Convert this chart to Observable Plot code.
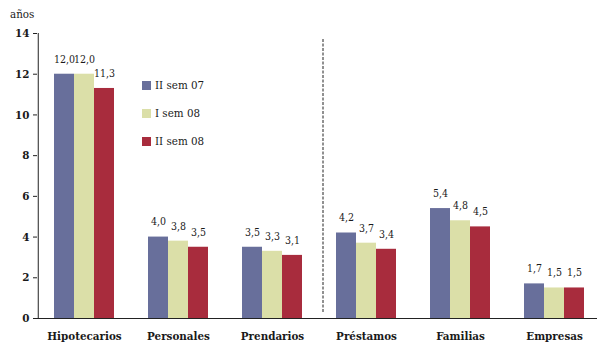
<!DOCTYPE html>
<html>
<head>
<meta charset="utf-8">
<script src="https://cdn.jsdelivr.net/npm/d3@7"></script>
<script src="https://cdn.jsdelivr.net/npm/@observablehq/plot@0.6"></script>
<style>
  body { margin: 0; background: white; }
  #wrap { position: relative; width: 597px; height: 349px; font-family: 'DejaVu Serif Condensed', 'DejaVu Serif', serif; font-stretch: condensed; color: #1a1a1a; }
  #unit { position: absolute; left: 10px; top: 7px; font-size: 11.5px; }
  #legend { position: absolute; left: 142px; top: 78px; font-size: 11.5px; }
  .row { display: flex; align-items: center; height: 14px; margin-bottom: 14px; }
  .sw { width: 9px; height: 9px; margin-right: 4px; display: inline-block; }
  svg, svg text { font-family: 'DejaVu Serif Condensed', 'DejaVu Serif', serif !important; font-stretch: condensed; }
</style>
</head>
<body>
<div id="wrap"><div id="unit">años</div><div id="legend"></div></div>
<script>
const categories = ["Hipotecarios", "Personales", "Prendarios", "Préstamos", "Familias", "Empresas"];
const series = ["II sem 07", "I sem 08", "II sem 08"];
const sem07b = [12.0, 4.0, 3.5, 4.2, 5.4, 1.7];
const sem08a = [12.0, 3.8, 3.3, 3.7, 4.8, 1.5];
const sem08b = [11.3, 3.5, 3.1, 3.4, 4.5, 1.5];
const yTicks = [0, 2, 4, 6, 8, 10, 12, 14];
const colors = ["#686f9b", "#dbdfa8", "#a82c3d"];

const values = [sem07b, sem08a, sem08b];
const data = categories.flatMap((c, i) => series.map((s, j) => ({category: c, series: s, value: values[j][i]})));
const fmt = d => d.value.toFixed(1).replace(".", ",");

const plot = Plot.plot({
  width: 597, height: 349,
  marginLeft: 35, marginRight: -5, marginTop: 33, marginBottom: 31,
  style: {fontFamily: "'DejaVu Serif Condensed', 'DejaVu Serif', serif", fontSize: "11.5px", color: "#1a1a1a", background: "transparent"},
  fx: {domain: categories, padding: 0, label: null},
  x: {domain: series, paddingInner: 0, paddingOuter: 0.75, axis: null},
  y: {domain: [0, 14], label: null},
  color: {domain: series, range: colors},
  marks: [
    Plot.barY(data, {fx: "category", x: "series", y: "value", fill: "series", inset: 0}),
    Plot.text(data, {fx: "category", x: "series", y: "value", text: fmt, dy: -15, fontSize: 10.5, fill: "#1a1a1a"}),
    Plot.ruleY([0], {stroke: "#222", strokeWidth: 1.2}),
    Plot.ruleX([categories[0]], {fx: d => d, x: () => series[0], dx: -26.25, stroke: "#222"}),
    Plot.ruleX([categories[3]], {fx: d => d, x: () => series[0], dx: -23.5, stroke: "#222", strokeDasharray: "3,1.5", insetTop: 6, insetBottom: 6}),
    Plot.axisY({ticks: yTicks, tickSize: 4, tickPadding: 4, tickFormat: d => d, fontWeight: "bold", label: null, stroke: "#222"}),
    Plot.axisFx({anchor: "bottom", tickSize: 0, tickPadding: 13, fontWeight: "bold", label: null})
  ]
});
plot.style.position = "absolute";
plot.style.left = "0";
plot.style.top = "0";
document.getElementById("wrap").prepend(plot);

const legend = document.getElementById("legend");
series.forEach((s, i) => {
  const row = document.createElement("div");
  row.className = "row";
  row.innerHTML = `<span class="sw" style="background:${colors[i]}"></span><span>${s}</span>`;
  legend.appendChild(row);
});
</script>
</body>
</html>
